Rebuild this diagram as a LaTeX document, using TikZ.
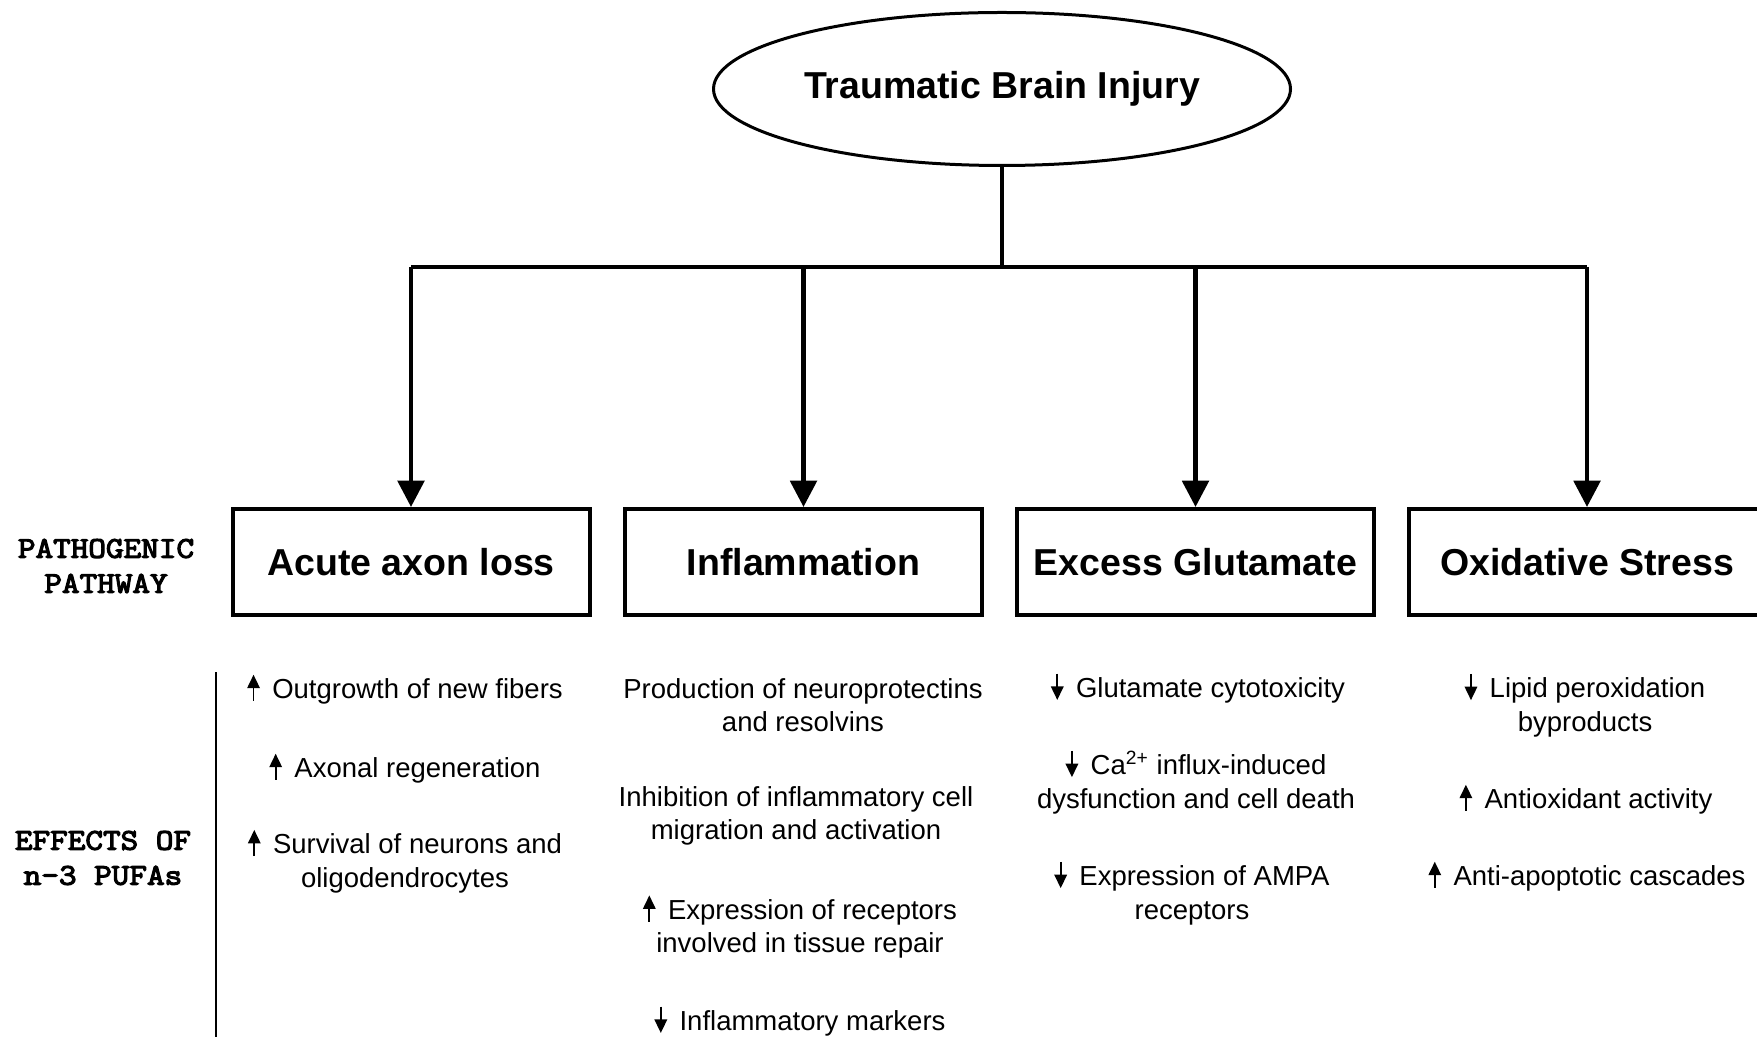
\documentclass[tikz,border=0pt]{standalone}
\usepackage{fontspec}
\setmainfont{Liberation Sans}
\newfontfamily\labelfont[FakeStretch=1.14,FakeBold=4]{Latin Modern Mono}
\usetikzlibrary{arrows.meta,shapes.geometric}

% small inline up / down arrows used in the effect lists
\newcommand{\incr}{\tikz[baseline=0pt]\draw[line width=0.7pt,-{Triangle[length=5.4pt,width=5pt]}] (0pt,-1pt)--(0pt,9.5pt);\hspace{5pt}}
\newcommand{\decr}{\tikz[baseline=0pt]\draw[line width=0.7pt,-{Triangle[length=5.4pt,width=5pt]}] (0pt,9.5pt)--(0pt,-1pt);\hspace{5pt}}

\begin{document}
\begin{tikzpicture}[x=0.4pt,y=-0.4pt,
  every node/.style={inner sep=0pt},
  conn/.style={line width=1.8pt},
  arr/.style={line width=1.8pt,-{Triangle[length=10.5pt,width=10.5pt]}},
  pathbox/.style={draw,line width=1.6pt,minimum width=142.8pt,minimum height=42.4pt,
    font=\fontsize{15pt}{18pt}\selectfont\bfseries},
  injury/.style={draw,ellipse,line width=1.2pt,minimum width=230.8pt,minimum height=61.2pt,
    font=\fontsize{15pt}{18pt}\selectfont\bfseries},
  effect/.style={align=center,font=\fontsize{11pt}{13.44pt}\selectfont},
  sidelabel/.style={align=center,font=\labelfont\fontsize{12pt}{14pt}\selectfont}]

\useasboundingbox (0,0) rectangle (1757,1037);
\clip (0,0) rectangle (1757,1037);

% top of the tree
\node[injury] (tbi) at (1002,89) {Traumatic Brain Injury};
\coordinate (hub) at (1002,267);

% pathogenic pathways
\node[pathbox] (axon) at (411,562) {Acute axon loss};
\node[pathbox] (infl) at (803.5,562) {Inflammation};
\node[pathbox] (glut) at (1195.5,562) {Excess Glutamate};
\node[pathbox] (oxid) at (1587,562) {Oxidative Stress};

\draw[conn] (tbi.south) -- (hub);
\draw[conn] (axon.north |- hub) -- (oxid.north |- hub);
\foreach \b in {axon,infl,glut,oxid}
  \draw[arr] (\b.north |- hub) -- (\b.north);

% row labels
\node[sidelabel] (lpath) at (106,566) {PATHOGENIC\\PATHWAY};
\node[sidelabel] (leff) at (103,858) {EFFECTS OF\\n-3 PUFAs};
\coordinate (sepTop) at (216,672);
\coordinate (sepBot) at (216,1037);
\draw[line width=0.7pt] (sepTop) -- (sepBot);

% effects: acute axon loss
\node[effect] (a1) at (405,689) {\incr Outgrowth of new fibers};
\node[effect] (a2) at (405,768) {\incr Axonal regeneration};
\node[effect] (a3) at (405,861) {\incr Survival of neurons and\\oligodendrocytes};

% effects: inflammation
\node[effect] (i1) at (803,705) {Production of neuroprotectins\\and resolvins};
\node[effect] (i2) at (796,816) {Inhibition of inflammatory cell\\migration and activation};
\node[effect] (i3) at (800,926.5) {\incr Expression of receptors\\involved in tissue repair};
\node[effect] (i4) at (800,1021) {\decr Inflammatory markers};

% effects: excess glutamate
\node[effect] (g1) at (1198,688) {\decr Glutamate cytotoxicity};
\node[effect] (g2) at (1196,782) {\decr Ca\textsuperscript{2+} influx-induced\\dysfunction and cell death};
\node[effect] (g3) at (1192,893) {\decr Expression of AMPA\\receptors};

% effects: oxidative stress
\node[effect] (o1) at (1585,705) {\decr Lipid peroxidation\\byproducts};
\node[effect] (o2) at (1586,799) {\incr Antioxidant activity};
\node[effect] (o3) at (1587,876) {\incr Anti-apoptotic cascades};
\end{tikzpicture}
\end{document}
